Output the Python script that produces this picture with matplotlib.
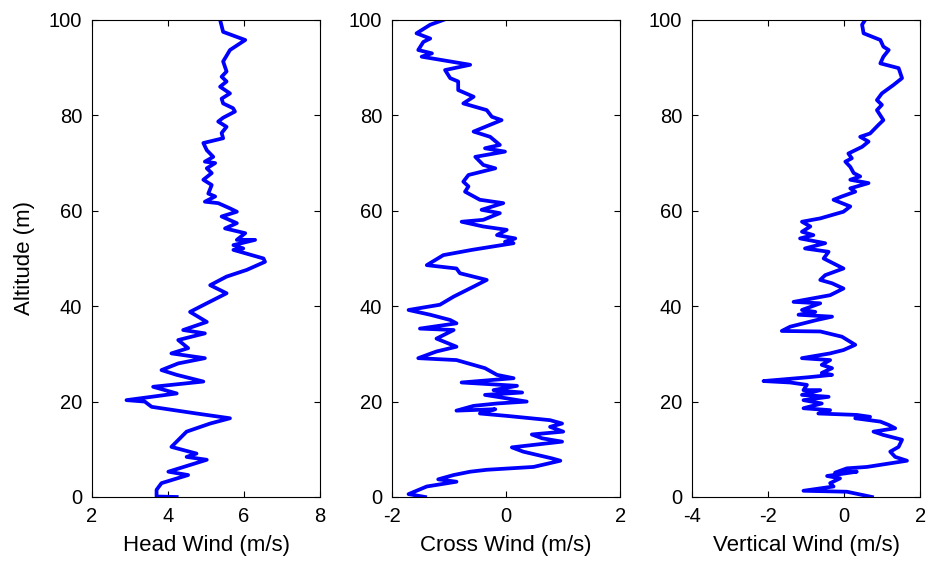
import matplotlib
matplotlib.use("Agg")
import matplotlib.pyplot as plt

plt.rcParams['font.family'] = ['Liberation Sans', 'DejaVu Sans']
plt.rcParams['axes.unicode_minus'] = False

# head wind profile (m/s) vs altitude (m)
head_alt = [0.0, 0.1, 1.5, 2.9, 4.6, 5.3, 7.8, 8.4, 9.1, 10.5, 13.7, 15.4, 16.5, 17.5,
            18.9, 20.0, 20.3, 21.7, 23.1, 24.2, 25.6, 26.6, 28.0, 29.1, 30.1, 31.2,
            32.9, 34.3, 35.0, 36.7, 38.8, 40.6, 42.7, 44.4, 46.2, 47.6, 49.3, 50.0,
            51.8, 52.1, 52.8, 53.9, 53.9, 55.3, 56.3, 57.4, 58.8, 59.8, 60.5, 61.6,
            61.9, 63.0, 63.6, 65.4, 66.5, 67.9, 68.9, 70.0, 70.3, 71.3, 72.7, 74.2,
            75.2, 76.3, 77.6, 78.7, 79.5, 80.8, 81.5, 82.5, 83.5, 84.6, 86.0, 87.1,
            88.1, 89.2, 91.3, 93.7, 95.8, 97.5, 100.0]
head_wind = [4.23, 3.70, 3.70, 3.83, 4.53, 4.01, 5.02, 4.49, 4.75, 4.09, 4.49, 5.11, 5.63, 4.75,
             3.57, 3.39, 2.91, 4.23, 3.61, 4.93, 4.23, 3.83, 4.27, 4.97, 4.09, 4.53,
             4.27, 4.97, 4.40, 5.02, 4.58, 5.02, 5.54, 5.11, 5.54, 6.07, 6.55, 6.51,
             5.72, 5.98, 5.72, 6.29, 5.81, 6.03, 5.50, 5.81, 5.41, 5.81, 5.63, 5.32,
             4.97, 5.24, 5.06, 5.15, 4.93, 5.15, 5.02, 5.24, 4.97, 5.19, 5.02, 4.93,
             5.45, 5.41, 5.54, 5.32, 5.45, 5.76, 5.71, 5.45, 5.41, 5.63, 5.37, 5.54,
             5.41, 5.54, 5.45, 5.63, 6.03, 5.45, 5.37]

# cross wind profile
cross_alt = [0.0, 0.6, 2.2, 3.2, 3.7, 4.6, 5.3, 5.7, 6.3, 7.6, 8.1, 9.5, 10.4, 11.6,
             12.3, 13.1, 13.7, 14.7, 15.4, 16.1, 17.0, 17.5, 18.4, 18.1, 19.1, 19.6,
             20.0, 21.4, 21.9, 22.4, 23.3, 24.0, 24.9, 25.6, 27.0, 28.7, 29.1, 30.5,
             31.5, 33.2, 35.0, 35.3, 36.4, 37.1, 38.2, 39.2, 40.3, 42.0, 44.1, 45.5,
             46.9, 47.9, 48.6, 50.7, 51.8, 53.2, 53.5, 54.2, 54.9, 56.0, 56.7, 57.7,
             58.1, 59.5, 60.2, 61.6, 62.3, 64.0, 65.1, 66.1, 67.5, 68.9, 69.6, 71.3,
             72.4, 73.1, 73.8, 75.5, 76.6, 79.0, 79.7, 81.1, 82.5, 83.9, 85.3, 87.1,
             87.8, 89.5, 90.6, 92.3, 93.0, 93.7, 95.4, 96.1, 97.2, 99.0, 100.0]
cross_wind = [-1.42, -1.71, -1.39, -0.87, -1.19, -0.92, -0.63, -0.34, 0.48, 0.95, 0.80, 0.30, 0.10, 0.98,
              0.63, 0.45, 1.00, 0.77, 0.98, 0.77, 0.01, -0.46, -0.19, -0.87, -0.57, -0.16,
              0.36, -0.37, 0.28, -0.22, 0.19, -0.78, 0.13, -0.16, -0.37, -0.87, -1.54, -1.22,
              -0.87, -1.22, -0.92, -1.51, -0.87, -0.98, -1.33, -1.71, -1.16, -0.92, -0.57, -0.34,
              -0.81, -0.87, -1.39, -1.10, -0.60, 0.13, -0.02, 0.16, -0.16, 0.01, -0.40, -0.78,
              -0.40, -0.11, -0.43, -0.05, -0.46, -0.72, -0.66, -0.75, -0.66, -0.19, -0.40, -0.54,
              -0.02, -0.37, -0.11, -0.28, -0.57, -0.08, -0.25, -0.34, -0.75, -0.57, -0.84, -0.84,
              -0.98, -1.07, -0.63, -1.48, -1.30, -1.54, -1.45, -1.33, -1.57, -1.33, -1.10]

# vertical wind profile
vert_alt = [0.0, 1.1, 1.3, 2.2, 2.9, 3.9, 4.4, 5.3, 5.1, 6.0, 6.3, 7.6, 8.4, 9.5, 10.5,
            12.0, 13.0, 13.7, 14.4, 15.1, 15.8, 16.5, 16.8, 17.2, 17.5, 18.2, 18.6,
            19.6, 20.3, 21.0, 21.4, 22.4, 22.4, 23.5, 24.0, 24.3, 25.1, 25.6, 26.0,
            27.0, 27.7, 28.7, 29.1, 30.1, 30.8, 31.9, 33.6, 34.7, 34.8, 35.7, 37.1,
            37.8, 38.2, 38.8, 39.2, 40.6, 40.9, 42.3, 43.7, 44.8, 45.5, 46.5, 47.9,
            50.0, 51.4, 52.1, 53.2, 54.2, 54.9, 55.6, 56.7, 57.7, 58.4, 59.8, 60.9,
            61.6, 62.3, 63.0, 64.0, 64.7, 65.8, 66.5, 67.2, 67.9, 69.2, 70.3, 71.0,
            72.0, 73.4, 74.5, 75.5, 76.2, 78.0, 79.0, 81.1, 82.2, 83.2, 84.6, 86.4,
            87.8, 89.9, 90.9, 92.3, 93.7, 94.4, 95.8, 97.2, 99.0, 100.0]
vert_wind = [0.73, 0.07, -1.07, -0.28, -0.37, -0.11, -0.45, 0.33, -0.24, 0.07, 0.60, 1.65, 1.34, 1.21, 1.43,
             1.52, 1.03, 0.77, 1.34, 1.17, 0.95, 0.29, 0.68, 0.33, -0.68, -0.37, -1.07,
             -0.59, -1.07, -0.41, -1.11, -0.63, -1.07, -0.98, -1.42, -2.12, -0.94, -0.32, -0.59,
             -0.32, -0.59, -0.37, -1.11, -0.37, -0.02, 0.29, -0.06, -0.63, -1.64, -1.42, -0.72,
             -0.32, -1.20, -0.76, -1.11, -0.63, -1.33, -0.37, -0.02, -0.32, -0.63, -0.50, -0.02,
             -0.54, -0.41, -1.03, -0.50, -1.16, -0.81, -1.11, -0.89, -1.11, -0.63, -0.02, 0.16,
             -0.06, -0.28, -0.06, 0.29, 0.16, 0.64, 0.16, 0.42, 0.25, 0.16, 0.03, 0.20,
             0.11, 0.47, 0.64, 0.42, 0.68, 0.90, 1.03, 0.86, 0.99, 0.86, 0.99, 1.30,
             1.52, 1.43, 0.95, 1.03, 1.17, 1.03, 0.95, 0.51, 0.47, 0.55]

panels = [
    (head_wind, head_alt, "Head Wind (m/s)", (2, 8), [2, 4, 6, 8]),
    (cross_wind, cross_alt, "Cross Wind (m/s)", (-2, 2), [-2, 0, 2]),
    (vert_wind, vert_alt, "Vertical Wind (m/s)", (-4, 2), [-4, -2, 0, 2]),
]
lefts = [0.099, 0.4224, 0.7457]

fig = plt.figure(figsize=(9.28, 5.62), dpi=100)
for i, (xv, yv, lab, xl, xt) in enumerate(panels):
    ax = fig.add_axes([lefts[i], 0.1157, 0.246, 0.8488])
    ax.plot(xv, yv, color="#0000ff", lw=2.7)
    ax.set_xlim(xl)
    ax.set_ylim(0, 100)
    ax.set_xticks(xt)
    ax.set_yticks([0, 20, 40, 60, 80, 100])
    ax.tick_params(direction="in", top=True, right=True, labelsize=14.5, length=4, pad=7)
    ax.set_xlabel(lab, fontsize=16, labelpad=7)
    if i == 0:
        ax.set_ylabel("Altitude (m)", fontsize=16, labelpad=10)

plt.savefig("out.png", dpi=100)
